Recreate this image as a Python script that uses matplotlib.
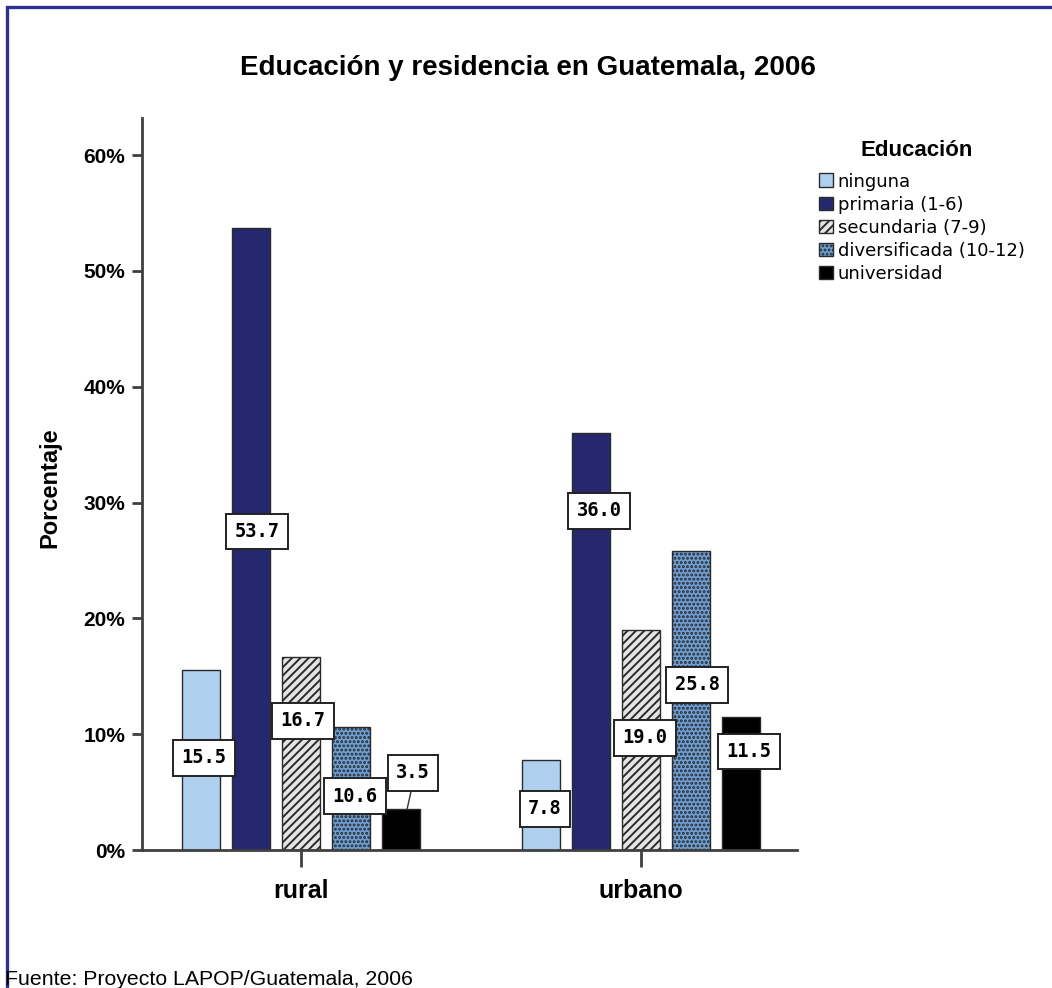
import matplotlib
matplotlib.use("Agg")
import matplotlib.pyplot as plt
import numpy as np
from matplotlib.patches import Rectangle

# ---------------- data ----------------
residence = ["rural", "urbano"]
education = ["ninguna", "primaria (1-6)", "secundaria (7-9)",
             "diversificada (10-12)", "universidad"]
values_rural = [15.5, 53.7, 16.7, 10.6, 3.5]
values_urbano = [7.8, 36.0, 19.0, 25.8, 11.5]
# where the value boxes sit (percent), as placed in the original chart
label_y_rural = [7.97, 27.5, 11.14, 4.66, 6.65]
label_y_urbano = [3.55, 29.3, 9.7, 14.25, 8.5]

title = "Educación y residencia en Guatemala, 2006"
ylabel = "Porcentaje"
legend_title = "Educación"
footer = "Fuente: Proyecto LAPOP/Guatemala, 2006"
yticks = [0, 10, 20, 30, 40, 50, 60]

# ---------------- style ----------------
plt.rcParams["hatch.linewidth"] = 1.4
colors = ["#aed0ee", "#26286e", "#e4e4e4", "#6e9fd4", "#000000"]
hatches = [None, None, "////", "....", None]
edge = "#2a2a2a"
label_dx_px = [[3, 6, 2, 4, 12], [4, 8, 4, 6, 8]]

W, H = 1052, 988
fig = plt.figure(figsize=(W / 100, H / 100), dpi=100)
fig.patch.set_facecolor("white")

# outer frame
fig.add_artist(Rectangle((7 / W, -0.2), 2.0, 1.2 - 7 / H + 0.0005,
                         transform=fig.transFigure, fill=False,
                         edgecolor="#2e3192", linewidth=2.4, zorder=0))

ax_left, ax_right = 142 / W, 797 / W
ax_bottom, ax_top = 1 - 850 / H, 1 - 118 / H
ax = fig.add_axes([ax_left, ax_bottom, ax_right - ax_left, ax_top - ax_bottom])

x = np.arange(len(residence))
step = 50 / 340
bw = 38 / 340
data = [values_rural, values_urbano]
label_ys = [label_y_rural, label_y_urbano]

for i, ed in enumerate(education):
    vals = [values_rural[i], values_urbano[i]]
    ax.bar(x + (i - 2) * step, vals, width=bw, color=colors[i],
           edgecolor=edge, linewidth=1.0, hatch=hatches[i], label=ed, zorder=2)

# value labels
for g in range(len(residence)):
    for i in range(len(education)):
        v = data[g][i]
        xc = x[g] + (i - 2) * step + label_dx_px[g][i] / 340
        ly = label_ys[g][i]
        if ly > v:
            ax.plot([x[g] + (i - 2) * step + 6 / 340, xc - 2 / 340],
                    [v, ly - 1.6], color="#333333", lw=1, zorder=3)
        ax.text(xc, ly, f"{v:.1f}", ha="center", va="center",
                fontsize=13.5, fontweight="bold", family="DejaVu Sans Mono",
                zorder=5,
                bbox=dict(boxstyle="square,pad=0.45", facecolor="white",
                          edgecolor="#222222", linewidth=1.4))

ax.set_xlim((142 - 301) / 340, 1 + (797 - 641) / 340)
ax.set_ylim(0, (850 - 118) / 11.583)
ax.set_yticks(yticks)
ax.set_yticklabels([f"{t}%" for t in yticks], fontsize=15, fontweight="bold",
                   family="Liberation Sans")
ax.set_xticks(x)
ax.set_xticklabels(residence, fontsize=18, fontweight="bold",
                   family=["Liberation Sans Narrow", "Liberation Sans"])
ax.tick_params(axis="y", length=7, width=2, color="#404040", pad=5)
ax.tick_params(axis="x", length=12, width=2, color="#404040", pad=9)
for s in ["top", "right"]:
    ax.spines[s].set_visible(False)
for s in ["left", "bottom"]:
    ax.spines[s].set_linewidth(2)
    ax.spines[s].set_color("#404040")
ax.set_facecolor("white")

fig.text(528 / W, 1 - 68 / H, title, ha="center", va="center",
         fontsize=20, fontweight="bold", family="Liberation Sans")
fig.text(50 / W, 1 - 488 / H, ylabel, ha="center", va="center", rotation=90,
         fontsize=17, fontweight="bold", family="Liberation Sans")
fig.text(5 / W, 1 - 979 / H, footer, ha="left", va="center",
         fontsize=15.3, family="Liberation Sans")

leg = fig.legend(loc="upper left", bbox_to_anchor=(806 / W, 1 - 160 / H),
                 frameon=False, fontsize=13,
                 handlelength=0.8, handleheight=0.8, handletextpad=0.25,
                 labelspacing=0.28, borderpad=0.2)
for t in leg.get_texts():
    t.set_family("DejaVu Sans")
fig.text(917 / W, 1 - 150 / H, legend_title, ha="center", va="center",
         fontsize=16, fontweight="bold", family="Liberation Sans")

fig.savefig("out.png", dpi=100)
